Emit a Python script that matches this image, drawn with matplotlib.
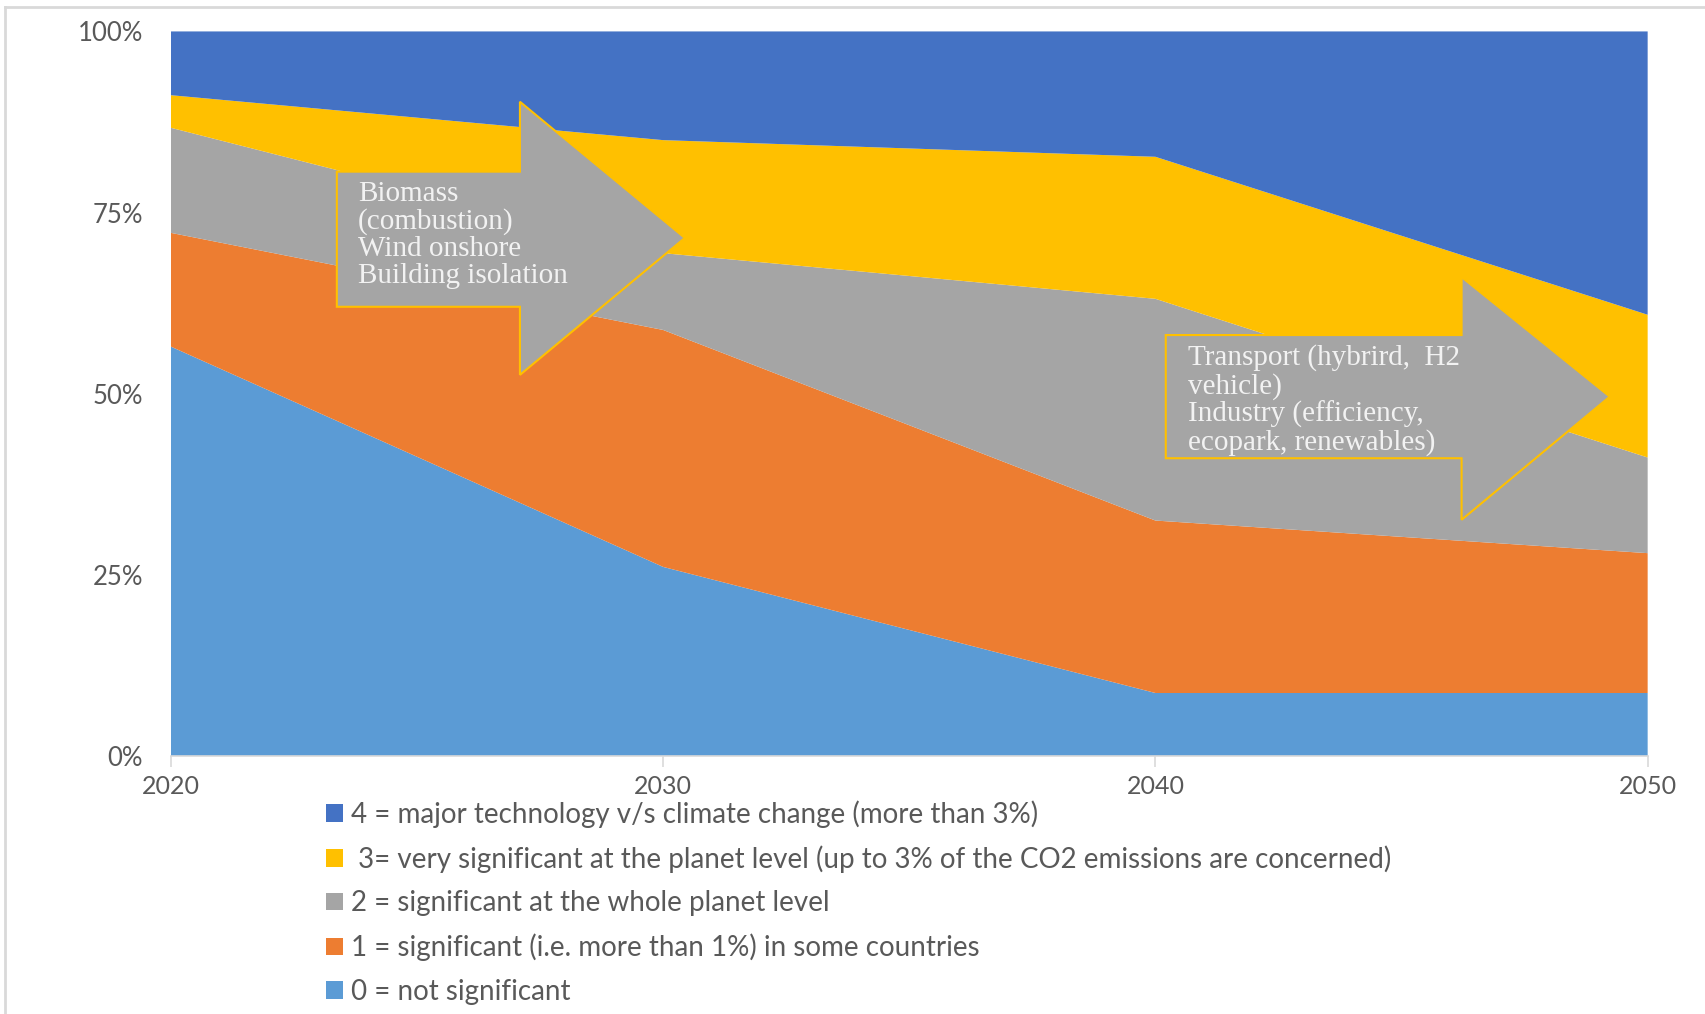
import matplotlib
matplotlib.use("Agg")
import matplotlib.pyplot as plt
from matplotlib.patches import Polygon, Patch
from matplotlib.lines import Line2D
from matplotlib.ticker import PercentFormatter

plt.rcParams['font.family'] = ['Lato', 'DejaVu Sans']

# share of technologies per impact level (%)
years = [2020, 2030, 2040, 2050]
not_significant = [56.5, 26.1, 8.7, 8.7]
some_countries = [15.7, 32.7, 23.8, 19.3]
whole_planet = [14.5, 10.6, 30.6, 13.2]
very_significant = [4.5, 15.6, 19.6, 19.7]
major = [8.8, 15.0, 17.3, 39.1]

labels = [
    "0 = not significant",
    "1 = significant (i.e. more than 1%) in some countries",
    "2 = significant at the whole planet level",
    " 3= very significant at the planet level (up to 3% of the CO2 emissions are concerned)",
    "4 = major technology v/s climate change (more than 3%)",
]
colors = ['#5B9BD5', '#ED7D31', '#A5A5A5', '#FFC000', '#4472C4']

arrow_texts = [
    "Biomass\n(combustion)\nWind onshore\nBuilding isolation",
    "Transport (hybrird,  H2\nvehicle)\nIndustry (efficiency,\necopark, renewables)",
]

fig = plt.figure(figsize=(17.06, 10.14), dpi=100)
ax = fig.add_axes([0.1002, 0.2544, 0.8656, 0.7146])

ax.stackplot(years, not_significant, some_countries, whole_planet,
             very_significant, major, colors=colors, linewidth=0)

ax.set_xlim(2020, 2050)
ax.set_ylim(0, 100)
ax.set_xticks(years)
ax.set_yticks([0, 25, 50, 75, 100])
ax.yaxis.set_major_formatter(PercentFormatter(decimals=0))

for side in ['top', 'right', 'left']:
    ax.spines[side].set_visible(False)
ax.spines['bottom'].set_color('#D9D9D9')
ax.spines['bottom'].set_linewidth(1.2)
ax.tick_params(axis='y', length=0, pad=20, labelsize=18.5, labelcolor='#595959')
ax.tick_params(axis='x', length=8, color='#D9D9D9', width=1.2, pad=6,
               labelsize=18, labelcolor='#595959')


def block_arrow(x0, x1, x2, y_shaft, y_head, y_tip):
    # right-pointing block arrow: shaft from x0 to x1, head from x1 to tip x2
    pts = [(x0, y_shaft[0]), (x1, y_shaft[0]), (x1, y_head[0]), (x2, y_tip),
           (x1, y_head[1]), (x1, y_shaft[1]), (x0, y_shaft[1])]
    ax.add_patch(Polygon(pts, closed=True, facecolor='#A5A5A5',
                         edgecolor='#FFC000', linewidth=1.5, zorder=3,
                         clip_on=False))


block_arrow(2023.37, 2027.09, 2030.44, (80.65, 62.0), (90.3, 52.6), 71.5)
block_arrow(2040.21, 2046.22, 2049.23, (58.1, 41.1), (66.1, 32.6), 49.6)

ax.text(2023.8, 79.4, arrow_texts[0], family='Liberation Serif', fontsize=21,
        color='#F2F2F2', va='top', ha='left', linespacing=1.06, zorder=4)
ax.text(2040.66, 56.8, arrow_texts[1], family='Liberation Serif', fontsize=21,
        color='#F2F2F2', va='top', ha='left', linespacing=1.06, zorder=4)

handles = [Patch(facecolor=c, edgecolor='none') for c in colors][::-1]
leg = ax.legend(handles, labels[::-1], loc='upper left',
                bbox_to_anchor=(326 / 1706, 1 - 800 / 1014),
                bbox_transform=fig.transFigure, frameon=False, fontsize=20,
                handlelength=0.6, handleheight=0.6, handletextpad=0.3,
                labelspacing=0.63, borderpad=0, borderaxespad=0)
for t in leg.get_texts():
    t.set_color('#595959')

# thin frame on the top and left edges
fig.add_artist(Line2D([0.003, 1], [0.9935, 0.9935], color='#D9D9D9', lw=2,
                      transform=fig.transFigure))
fig.add_artist(Line2D([0.003, 0.003], [0, 0.9935], color='#D9D9D9', lw=2,
                      transform=fig.transFigure))

fig.savefig("out.png", dpi=100)
